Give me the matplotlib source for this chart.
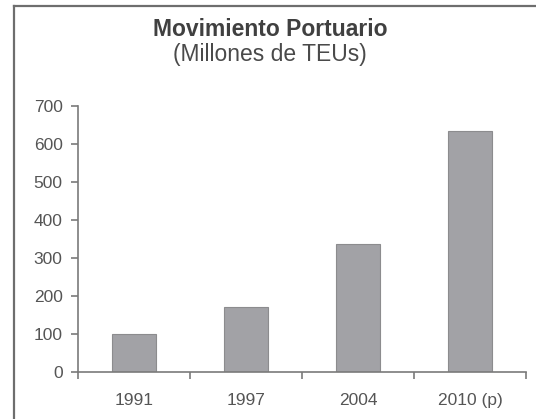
import matplotlib.pyplot as plt
from matplotlib.lines import Line2D

plt.rcParams['font.family'] = ['Liberation Sans', 'DejaVu Sans']

# data
years = ['1991', '1997', '2004', '2010 (p)']
teus = [99, 172, 336, 635]
yticks = [0, 100, 200, 300, 400, 500, 600, 700]

fig = plt.figure(figsize=(5.36, 4.19), dpi=100)
ax = fig.add_axes([78/536, 1 - 372/419, 448/536, 266/419])

x = list(range(len(years)))
ax.bar(x, teus, width=0.4, color='#a2a2a6', edgecolor='#8c8c8e', linewidth=0.8, zorder=2)

ax.set_xlim(-0.5, len(years) - 0.5)
ax.set_ylim(0, 700)
ax.set_yticks(yticks)

# ticks sit between categories, labels under the bars
ax.set_xticks([i - 0.5 for i in range(len(years) + 1)])
ax.set_xticklabels([])
ax.set_xticks(x, minor=True)
ax.set_xticklabels(years, minor=True)
ax.tick_params(axis='x', which='major', length=5, width=1.2, color='#7a7a7a', direction='out')
ax.tick_params(axis='x', which='minor', length=0, pad=15, labelsize=12.5, labelcolor='#555555')
ax.tick_params(axis='y', length=5, width=1.2, color='#7a7a7a', pad=6, labelsize=12.5, labelcolor='#555555')

for s in ['top', 'right']:
    ax.spines[s].set_visible(False)
for s in ['left', 'bottom']:
    ax.spines[s].set_color('#7a7a7a')
    ax.spines[s].set_linewidth(1.2)

fig.text(270/536, 1 - 30/419, 'Movimiento Portuario', ha='center', va='center',
         fontsize=16.5, fontweight='bold', color='#404040')
fig.text(270/536, 1 - 54/419, '(Millones de TEUs)', ha='center', va='center',
         fontsize=16.5, color='#4a4a4a')

# outer frame (left and top edges only visible)
fig.add_artist(Line2D([14.5/536, 14.5/536], [0, 1 - 6.5/419], color='#6e6e6e', linewidth=1.6,
                      transform=fig.transFigure))
fig.add_artist(Line2D([14.5/536, 1], [1 - 6.5/419, 1 - 6.5/419], color='#6e6e6e', linewidth=1.6,
                      transform=fig.transFigure))

fig.savefig('out.png', dpi=100)
